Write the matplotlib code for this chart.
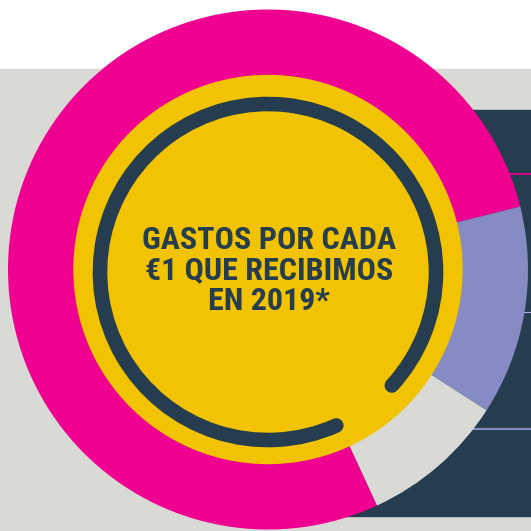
#!/usr/bin/env python3
# -*- coding: utf-8 -*-

import matplotlib.pyplot as plt
from matplotlib.patches import Rectangle, Circle, Arc

# share of every euro spent (ring slices, clockwise from the bottom)
categories = ['Programas', 'Captación de fondos', 'Administración']
shares = [0.78, 0.13, 0.09]
ringColors = ['#EF0090', '#868BC4', '#D9DAD6']

titleLines = ['GASTOS POR CADA', '€1 QUE RECIBIMOS', 'EN 2019*']

navy = '#253D4E'
yellow = '#F2C300'
grey = '#D9DAD6'

W = H = 531
fig = plt.figure(figsize=(5.31, 5.31), dpi=100)
fig.patch.set_facecolor('white')
ax = fig.add_axes([0, 0, 1, 1])

# background blocks
ax.add_patch(Rectangle((0, 0), W, H - 69, color=grey, zorder=0))
ax.add_patch(Rectangle((300, H - 516), 240, 406, color=navy, zorder=1))
ax.plot([430, W], [H - 174, H - 174], color='#EF0090', lw=1.2, zorder=2)
ax.plot([430, W], [H - 312, H - 312], color='#A9ADD8', lw=0.8, zorder=2)
ax.plot([430, W], [H - 429, H - 429], color='#868BC4', lw=1.6, zorder=2)

cx, cy = 268, H - 269.5

wedges, _ = ax.pie(shares, colors=ringColors, radius=260, center=(cx, cy),
                   startangle=-65.2, counterclock=False,
                   wedgeprops=dict(width=70, linewidth=0))
for w in wedges:
    w.set_zorder(3)

ax.add_patch(Circle((cx, cy), 194, color=yellow, zorder=4))

ring = Arc((cx, H - 272), 2 * 168, 2 * 168, theta1=-42.5, theta2=294,
           color=navy, lw=10.5, zorder=5)
ring.set_capstyle('round')
ax.add_patch(ring)

titleFont = ['Roboto Condensed', 'Liberation Sans Narrow', 'Open Sans Condensed',
             'DejaVu Sans']
for i, line in enumerate(titleLines):
    ax.text(cx + 1, H - (240 + 30.5 * i), line, ha='center', va='center',
            fontsize=23, fontweight='bold', fontstretch='condensed', color=navy,
            family=titleFont, zorder=6)

ax.set_xlim(0, W)
ax.set_ylim(0, H)
ax.set_aspect('equal')
ax.axis('off')

fig.savefig('out.png', dpi=100, facecolor='white')
